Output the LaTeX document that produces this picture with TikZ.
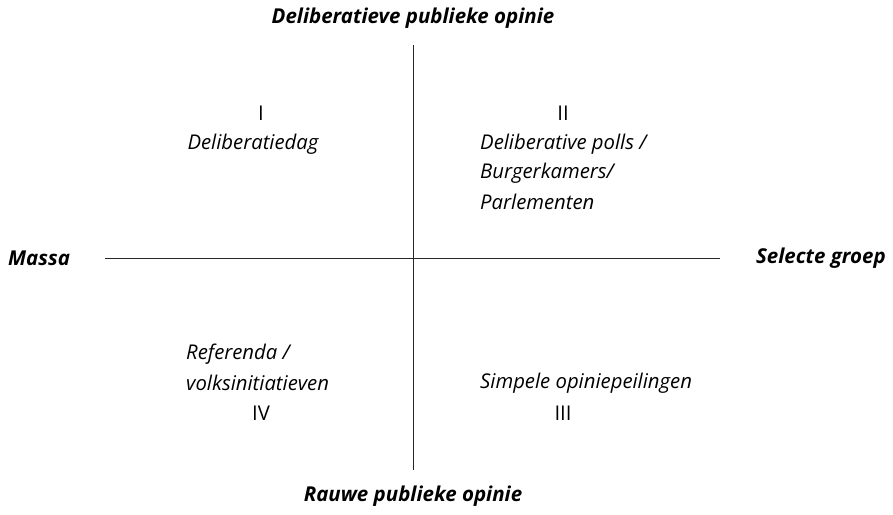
\documentclass[tikz,border=0pt]{standalone}
\usepackage{fontspec}
\setmainfont{Open Sans}
\begin{document}
\begin{tikzpicture}[x=1pt,y=-1pt,
  lbl/.style={font=\fontsize{20.3}{24}\selectfont\itshape, inner sep=0pt},
  axis/.style={font=\fontsize{20.5}{24}\selectfont\bfseries\itshape, inner sep=0pt},
  num/.style={font=\fontsize{20.3}{24}\selectfont, inner sep=0pt},
  ax/.style={line width=1pt, black!85}]
\useasboundingbox (0,0) rectangle (893,514);
\coordinate (vt) at (413,45);
\coordinate (vb) at (413,470);
\coordinate (hl) at (105,258);
\coordinate (hr) at (720,258);
\draw[ax] (vt) -- (vb);
\draw[ax] (hl) -- (hr);
\node[axis] (top) at (413,18) {Deliberatieve publieke opinie};
\node[axis] (bot) at (413,496) {Rauwe publieke opinie};
\node[axis, anchor=west] (massa) at (8,258) {Massa};
\node[axis, anchor=east] (sel) at (886,258) {Selecte groep};
\node[num] (q1) at (261,113) {I};
\node[lbl] (q1t) at (253,144) {Deliberatiedag};
\node[num] (q2) at (563,113) {II};
\node[lbl, anchor=west] (q2a) at (480,144) {Deliberative polls /};
\node[lbl, anchor=west] (q2b) at (480,173) {Burgerkamers/};
\node[lbl, anchor=west] (q2c) at (480,202) {Parlementen};
\node[lbl, anchor=west] (q4a) at (186,354) {Referenda /};
\node[lbl, anchor=west] (q4b) at (186,383) {volksinitiatieven};
\node[num] (q4) at (261,413) {IV};
\node[lbl, anchor=west] (q3a) at (480,383) {Simpele opiniepeilingen};
\node[num] (q3) at (563,413) {III};
\end{tikzpicture}
\end{document}
